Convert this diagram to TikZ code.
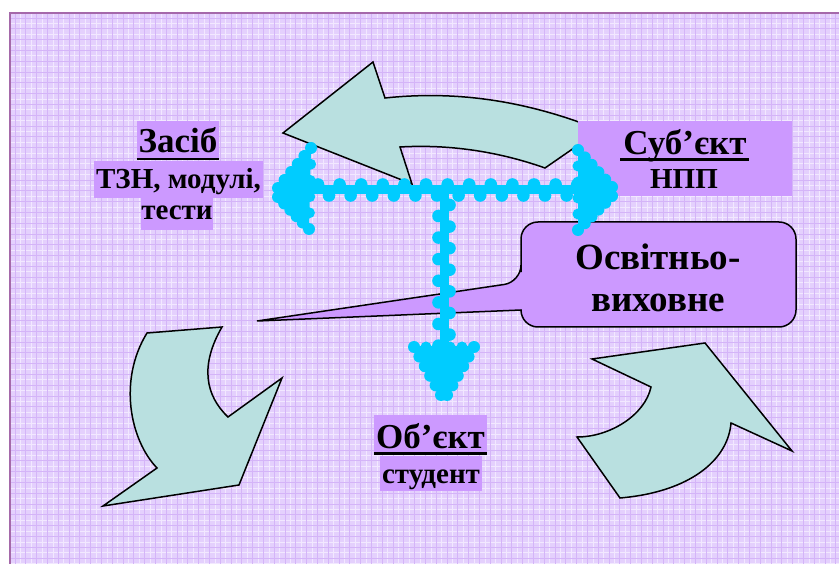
\documentclass[tikz,border=0pt]{standalone}
\usepackage{fontspec}
\setmainfont{Liberation Serif}
\usetikzlibrary{calc}
\definecolor{bgp}{RGB}{228,208,253}
\definecolor{gridp}{RGB}{212,180,248}
\definecolor{gridl}{RGB}{242,232,255}
\definecolor{boxp}{RGB}{204,153,255}
\definecolor{arrt}{RGB}{185,224,224}
\definecolor{cy}{RGB}{0,204,255}
\definecolor{framep}{RGB}{165,105,170}
\tikzset{
  hl/.style={fill=boxp, draw=none, inner sep=0pt},
  head/.style={font=\bfseries\fontsize{35}{40}\selectfont, inner sep=0pt, anchor=base},
  sub/.style={font=\bfseries\fontsize{29}{33}\selectfont, inner sep=0pt, anchor=base},
  big/.style={font=\bfseries\fontsize{37}{42}\selectfont, inner sep=0pt, anchor=base},
  uline/.style={draw=black, line width=2.6pt},
  blockarrow/.style={fill=arrt, draw=black, line width=1.5pt, line join=miter},
  bead/.style={fill=cy},
}
\begin{document}
\begin{tikzpicture}[x=1pt, y=-1pt]
\useasboundingbox (0,0) rectangle (839,564);
% background
\fill[white] (0,0) rectangle (839,564);
\fill[bgp] (9,12) rectangle (839,564);
\foreach \x in {15,25.8,...,839} \draw[gridl, line width=0.6pt] (\x+5.4,12) -- (\x+5.4,564);
\foreach \y in {18,28.8,...,564} \draw[gridl, line width=0.6pt] (9,\y+5.4) -- (839,\y+5.4);
\foreach \x in {15,25.8,...,839} \draw[gridp, line width=0.9pt] (\x,12) -- (\x,564);
\foreach \y in {18,28.8,...,564} \draw[gridp, line width=0.9pt] (9,\y) -- (839,\y);
\draw[framep, line width=2pt] (10,564) -- (10,13) -- (839,13);

% top curved arrow
\draw[blockarrow] (283,133) -- (373,62) -- (385,98)
  .. controls (460,90) and (530,102) .. (600,130)
  -- (545,168)
  .. controls (500,152) and (450,144) .. (400,147)
  -- (412,184) -- cycle;

% bottom-left arrow
\draw[blockarrow] (147,333) -- (222,327)
  .. controls (200,365) and (205,395) .. (228,417)
  -- (282,378) -- (239,485) -- (103,506) -- (157,468)
  .. controls (130,440) and (118,380) .. (147,333) -- cycle;

% bottom-right arrow
\draw[blockarrow] (592,359) -- (705,343) -- (792,451) -- (731,423)
  .. controls (728,460) and (690,492) .. (620,498)
  -- (577,437)
  .. controls (610,437) and (645,415) .. (651,387) -- cycle;

% Subject box
\node[hl, minimum width=214pt, minimum height=75pt] (subjbg) at (685,158.5) {};
\node[head] (subj) at (685,155) {Суб’єкт};
\draw[uline] (620,159.5) -- (749,159.5);
\node[sub] (npp) at (684,189) {НПП};

% Zasib
\node[hl, minimum width=82pt, minimum height=39pt] (zasibbg) at (178,140.5) {};
\node[head] (zasib) at (178,153) {Засіб};
\draw[uline] ([yshift=1.3pt]zasibbg.south west) -- ([yshift=1.3pt]zasibbg.south east);
\node[hl, minimum width=169pt, minimum height=37pt] (tznbg) at (178.5,179.5) {};
\node[sub] (tzn) at (178.5,189) {ТЗН, модулі,};
\node[hl, minimum width=72pt, minimum height=32pt] (testbg) at (177,214) {};
\node[sub] (test) at (177,220) {тести};

% Object
\node[hl, minimum width=113pt, minimum height=38pt] (objbg) at (430.5,434) {};
\node[head] (obj) at (430.5,448) {Об’єкт};
\draw[uline] ([yshift=-0.5pt]objbg.south west) -- ([yshift=-0.5pt]objbg.south east);
\node[hl, minimum width=102pt, minimum height=35pt] (studbg) at (431,473.5) {};
\node[sub] (stud) at (431,483) {студент};

% Callout
\draw[fill=boxp, draw=black, line width=1.5pt] (521,282) -- (257,321) -- (521,310)
  [rounded corners=17pt] -- (521,327) -- (796,327) -- (796,222) -- (521,222) -- (521,282) -- cycle;
\node[big] (osv1) at (658,270) {Освітньо-};
\node[big] (osv2) at (658,312) {виховне};

% cyan beaded arrows
\coordinate (hL) at (300,190);
\coordinate (hR) at (590,190);
\coordinate (vT) at (444,190);
\coordinate (vB) at (444,350);
\draw[cy, line width=9pt] (hL) -- (hR);
\draw[cy, line width=9pt] (vT) -- (vB);
\foreach \k in {0,...,12} {
  \fill[bead] (318+21.6*\k,184.5) circle[radius=6.3pt];
  \fill[bead] (329+21.6*\k,195.5) circle[radius=6.3pt];
}
\foreach \k in {0,...,6} {
  \fill[bead] (449.5,205+21.6*\k) circle[radius=6.3pt];
  \fill[bead] (438.5,216+21.6*\k) circle[radius=6.3pt];
}
% left head
\fill[cy] (311,148) -- (278,186) -- (278,199) -- (309,229) -- cycle;
\foreach \t in {0,0.2,0.4,0.6,0.8,1} {
  \fill[bead] ($(311,148)!\t!(278,188)$) circle[radius=6pt];
  \fill[bead] ($(309,229)!\t!(278,197)$) circle[radius=6pt];
  \fill[bead] ($(311,148)!\t!(309,229)$) circle[radius=5.5pt];
}
% right head
\fill[cy] (578,148) -- (613,185) -- (613,198) -- (578,231) -- cycle;
\foreach \t in {0,0.2,0.4,0.6,0.8,1} {
  \fill[bead] ($(578,150)!\t!(612,187)$) circle[radius=6pt];
  \fill[bead] ($(578,230)!\t!(612,196)$) circle[radius=6pt];
  \fill[bead] ($(578,150)!\t!(578,230)$) circle[radius=5.5pt];
}
% down head
\fill[cy] (412,346) -- (475,346) -- (447,398) -- (441,398) -- cycle;
\foreach \t in {0,0.2,0.4,0.6,0.8,1} {
  \fill[bead] ($(414,347)!\t!(441,395)$) circle[radius=6pt];
  \fill[bead] ($(474,347)!\t!(447,395)$) circle[radius=6pt];
  \fill[bead] ($(414,347)!\t!(474,347)$) circle[radius=5.5pt];
}
\end{tikzpicture}
\end{document}
